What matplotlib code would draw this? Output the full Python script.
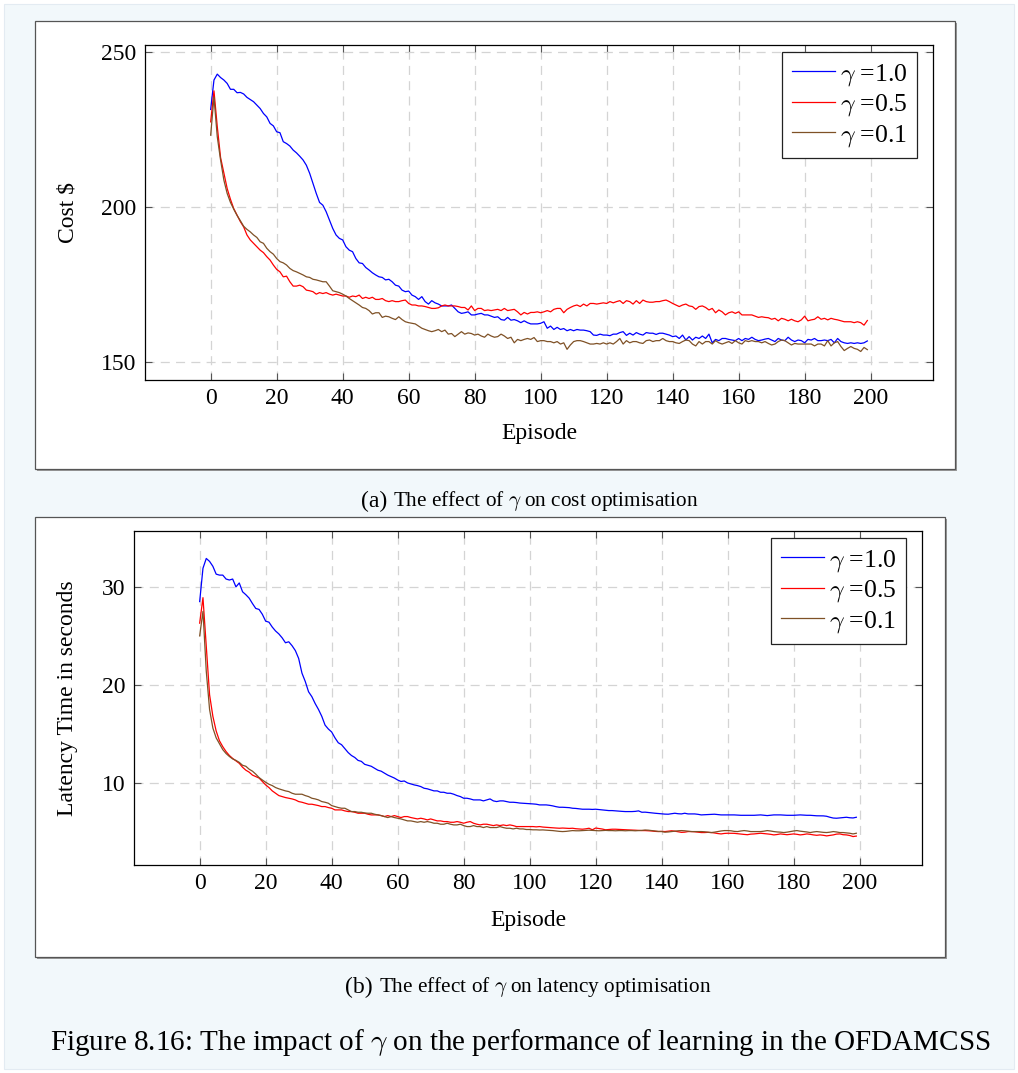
import numpy as np
import matplotlib
matplotlib.use("Agg")
import matplotlib.pyplot as plt
from matplotlib.patches import Rectangle

plt.rcParams['font.family'] = ['Liberation Serif', 'DejaVu Serif']
plt.rcParams['mathtext.fontset'] = 'cm'
plt.rcParams['lines.scale_dashes'] = False

# ---------------------------------------------------------------- data
episodes = np.arange(200)
gamma_labels = [r'$\gamma$ =1.0', r'$\gamma$ =0.5', r'$\gamma$ =0.1']

cost_g10 = [
    231.5, 241.0, 242.9, 241.8, 241.0, 239.9, 238.0, 238.0, 236.9, 237.0,
    236.5, 235.4, 234.7, 234.0, 232.9, 231.8, 230.2, 229.1, 227.0, 226.2,
    224.3, 224.0, 221.1, 220.5, 219.7, 218.4, 217.5, 216.4, 215.2, 213.5,
    210.9, 207.6, 204.4, 201.5, 200.6, 198.5, 195.8, 193.1, 191.0, 189.9,
    189.4, 187.2, 186.1, 185.6, 183.4, 182.0, 181.8, 180.5, 179.7, 178.8,
    178.1, 177.5, 177.3, 176.5, 176.7, 175.9, 174.8, 174.5, 173.2, 172.7,
    172.9, 171.6, 171.1, 170.2, 171.1, 169.5, 168.7, 169.8, 169.1, 168.7,
    168.1, 168.1, 168.1, 168.4, 167.3, 166.2, 165.7, 165.9, 166.2, 165.2,
    165.2, 165.5, 165.7, 165.2, 165.2, 164.8, 164.4, 164.6, 163.7, 163.5,
    164.4, 163.5, 163.7, 163.3, 162.7, 163.3, 162.7, 162.3, 162.3, 162.3,
    162.5, 163.0, 160.9, 161.6, 160.5, 161.2, 160.5, 160.8, 160.1, 160.5,
    160.1, 160.5, 160.3, 160.3, 160.1, 159.8, 158.7, 158.6, 159.0, 158.7,
    158.7, 158.5, 159.0, 159.0, 159.5, 159.8, 158.6, 159.3, 158.7, 159.5,
    159.0, 158.7, 159.5, 159.3, 159.3, 158.9, 159.3, 159.3, 159.0, 158.7,
    158.2, 158.4, 157.6, 158.7, 157.1, 158.2, 157.1, 158.0, 157.6, 158.4,
    157.6, 159.0, 156.2, 157.3, 156.9, 157.6, 157.6, 157.3, 157.1, 156.9,
    157.6, 156.9, 157.6, 157.3, 158.0, 157.3, 156.9, 157.1, 157.4, 157.6,
    157.1, 156.6, 157.6, 157.1, 156.9, 158.0, 157.1, 156.6, 157.1, 156.9,
    156.2, 157.3, 157.1, 157.6, 156.9, 156.9, 157.1, 156.9, 157.3, 156.2,
    157.6, 156.6, 156.2, 156.0, 156.2, 156.0, 156.2, 156.0, 156.2, 156.8,
]

cost_g05 = [
    227.5, 237.5, 226.0, 216.0, 211.0, 206.0, 202.5, 199.5, 197.4, 195.3,
    193.6, 191.0, 189.4, 188.3, 187.2, 186.1, 185.3, 184.0, 182.9, 181.3,
    179.9, 179.1, 177.5, 177.7, 175.9, 174.5, 174.5, 174.8, 174.3, 173.2,
    173.0, 172.7, 171.9, 172.4, 172.1, 172.4, 171.9, 171.6, 171.9, 171.6,
    171.3, 171.3, 170.9, 171.3, 171.1, 171.6, 170.5, 170.9, 170.5, 170.9,
    170.2, 170.2, 170.5, 169.8, 169.5, 169.8, 169.5, 169.5, 169.8, 170.0,
    168.9, 168.4, 168.4, 168.1, 168.1, 167.9, 167.6, 167.3, 167.3, 167.5,
    168.1, 168.4, 168.1, 168.1, 168.1, 167.9, 167.6, 167.6, 166.8, 168.1,
    166.6, 167.3, 167.3, 166.6, 166.8, 166.6, 166.8, 167.0, 166.6, 167.3,
    166.6, 166.8, 167.0, 166.2, 165.2, 166.0, 165.5, 166.0, 166.0, 166.2,
    165.9, 166.2, 166.6, 166.2, 167.0, 167.3, 167.3, 165.9, 167.0, 167.6,
    168.1, 168.4, 167.9, 168.7, 168.1, 168.9, 168.9, 168.7, 168.9, 169.1,
    168.9, 169.5, 169.1, 169.5, 169.8, 168.9, 169.8, 169.5, 168.7, 169.8,
    168.9, 170.0, 169.5, 169.3, 169.3, 169.5, 169.5, 169.8, 170.0, 169.5,
    168.9, 168.4, 167.9, 168.4, 168.7, 168.1, 167.9, 167.0, 167.9, 168.1,
    167.6, 166.8, 167.3, 165.9, 166.8, 166.2, 165.2, 165.9, 166.2, 165.7,
    166.2, 165.2, 165.2, 165.2, 165.2, 164.8, 164.4, 164.6, 164.4, 164.3,
    163.8, 164.1, 163.3, 164.1, 163.8, 163.3, 163.8, 163.3, 163.0, 163.6,
    164.8, 163.3, 163.6, 163.8, 164.6, 163.8, 164.1, 163.6, 164.1, 163.8,
    163.6, 163.3, 163.0, 163.0, 163.0, 162.7, 163.0, 162.7, 161.9, 163.4,
]

cost_g01 = [
    223.2, 235.5, 222.7, 215.2, 208.7, 204.4, 201.5, 199.3, 197.3, 195.6,
    193.8, 192.8, 192.0, 191.0, 190.2, 188.8, 188.3, 186.7, 185.6, 184.8,
    183.4, 182.4, 182.0, 181.3, 180.2, 179.5, 179.1, 178.6, 178.1, 177.5,
    177.3, 176.7, 176.5, 176.2, 175.9, 175.9, 174.5, 173.0, 172.7, 172.4,
    171.9, 171.3, 170.5, 169.8, 169.1, 168.4, 167.6, 167.3, 166.6, 165.5,
    165.9, 165.9, 164.4, 164.8, 164.6, 164.1, 163.7, 164.6, 163.7, 163.0,
    162.7, 162.5, 162.3, 161.6, 160.9, 160.5, 160.1, 159.8, 160.1, 160.5,
    159.8, 160.3, 159.0, 159.2, 158.2, 159.0, 159.8, 159.0, 159.4, 159.2,
    158.7, 159.0, 158.4, 158.0, 159.0, 158.4, 158.0, 158.2, 159.0, 158.4,
    157.6, 158.0, 156.2, 157.3, 156.9, 157.3, 157.6, 157.3, 157.9, 156.6,
    156.9, 156.9, 156.6, 156.6, 156.2, 156.6, 155.8, 156.2, 154.1, 155.5,
    156.6, 156.9, 156.9, 156.6, 156.2, 155.8, 155.8, 156.0, 155.8, 156.2,
    155.8, 156.2, 155.8, 156.6, 157.6, 155.8, 156.9, 156.2, 156.6, 156.6,
    156.2, 156.0, 156.9, 157.1, 156.6, 156.9, 156.9, 157.6, 156.9, 156.6,
    156.6, 156.2, 156.0, 156.6, 157.1, 156.9, 155.8, 155.2, 156.6, 155.8,
    156.6, 156.6, 155.8, 156.9, 156.2, 155.8, 156.2, 156.6, 156.0, 156.9,
    156.2, 155.8, 156.9, 156.6, 156.9, 156.6, 156.6, 156.2, 156.6, 156.0,
    155.5, 155.8, 156.6, 157.1, 156.9, 156.2, 155.5, 156.0, 155.8, 155.8,
    155.8, 155.8, 155.8, 155.2, 155.8, 155.8, 155.2, 156.9, 155.2, 156.2,
    156.6, 155.0, 153.7, 154.4, 155.0, 154.4, 154.1, 153.4, 154.7, 154.0,
]

lat_g10 = [
    28.5, 31.9, 32.9, 32.6, 32.1, 31.3, 31.2, 31.2, 30.8, 30.7,
    30.8, 30.0, 30.4, 29.5, 29.2, 28.85, 28.3, 27.8, 27.7, 27.2,
    26.5, 26.4, 25.9, 25.5, 25.2, 24.8, 24.3, 24.4, 24.0, 23.5,
    22.7, 21.2, 20.35, 19.3, 18.8, 18.1, 17.5, 16.8, 15.9, 15.5,
    15.2, 14.6, 14.1, 13.9, 13.5, 13.1, 12.8, 12.6, 12.3, 12.2,
    11.9, 11.8, 11.7, 11.5, 11.3, 11.2, 11.0, 10.8, 10.65, 10.5,
    10.3, 10.15, 10.2, 10.0, 9.9, 9.8, 9.73, 9.63, 9.46, 9.4,
    9.29, 9.19, 9.19, 9.05, 9.05, 8.95, 8.95, 8.85, 8.71, 8.61,
    8.44, 8.44, 8.37, 8.27, 8.27, 8.27, 8.17, 8.27, 8.37, 8.17,
    8.1, 8.17, 8.17, 8.1, 8.03, 8.03, 8.0, 7.95, 7.93, 7.9,
    7.9, 7.86, 7.83, 7.76, 7.76, 7.76, 7.72, 7.66, 7.58, 7.52,
    7.52, 7.50, 7.48, 7.42, 7.40, 7.36, 7.32, 7.32, 7.32, 7.30,
    7.32, 7.28, 7.25, 7.22, 7.18, 7.18, 7.15, 7.11, 7.10, 7.08,
    7.08, 7.08, 7.10, 7.15, 7.01, 7.02, 6.98, 6.95, 6.91, 6.88,
    6.84, 6.82, 6.81, 6.86, 6.91, 6.86, 6.84, 6.91, 6.84, 6.84,
    6.84, 6.80, 6.74, 6.76, 6.77, 6.79, 6.81, 6.77, 6.74, 6.74,
    6.74, 6.74, 6.74, 6.72, 6.70, 6.70, 6.70, 6.70, 6.70, 6.72,
    6.74, 6.70, 6.67, 6.70, 6.74, 6.74, 6.74, 6.72, 6.70, 6.70,
    6.70, 6.72, 6.74, 6.72, 6.70, 6.70, 6.67, 6.65, 6.64, 6.64,
    6.60, 6.50, 6.42, 6.40, 6.43, 6.45, 6.50, 6.45, 6.43, 6.50,
]

lat_g05 = [
    26.3, 28.9, 24.0, 19.0, 16.8, 15.3, 14.3, 13.7, 13.2, 12.8,
    12.5, 12.25, 12.0, 11.6, 11.3, 11.1, 10.8, 10.65, 10.5, 10.15,
    9.8, 9.53, 9.19, 8.95, 8.71, 8.61, 8.51, 8.44, 8.37, 8.27,
    8.1, 8.03, 7.93, 7.83, 7.83, 7.76, 7.69, 7.59, 7.59, 7.49,
    7.42, 7.25, 7.25, 7.25, 7.15, 7.08, 7.08, 7.01, 6.91, 6.91,
    6.91, 6.81, 6.74, 6.74, 6.74, 6.67, 6.57, 6.67, 6.57, 6.67,
    6.57, 6.47, 6.57, 6.57, 6.47, 6.40, 6.33, 6.40, 6.33, 6.23,
    6.33, 6.23, 6.13, 6.13, 6.06, 6.06, 5.99, 5.99, 6.06, 5.99,
    5.89, 5.99, 6.06, 5.89, 5.79, 5.72, 5.79, 5.79, 5.72, 5.65,
    5.72, 5.65, 5.72, 5.65, 5.72, 5.65, 5.55, 5.55, 5.55, 5.55,
    5.55, 5.55, 5.52, 5.55, 5.50, 5.48, 5.45, 5.42, 5.40, 5.38,
    5.40, 5.38, 5.36, 5.38, 5.33, 5.30, 5.28, 5.32, 5.38, 5.22,
    5.40, 5.35, 5.30, 5.22, 5.25, 5.28, 5.28, 5.26, 5.24, 5.22,
    5.21, 5.20, 5.18, 5.16, 5.14, 5.14, 5.12, 5.10, 5.06, 5.04,
    5.06, 5.04, 5.08, 5.12, 5.08, 5.02, 4.96, 4.98, 5.04, 5.04,
    5.02, 4.98, 4.94, 4.94, 4.96, 4.94, 4.90, 4.84, 4.80, 4.85,
    4.87, 4.87, 4.86, 4.82, 4.78, 4.75, 4.72, 4.78, 4.80, 4.84,
    4.87, 4.84, 4.80, 4.76, 4.70, 4.74, 4.80, 4.76, 4.72, 4.76,
    4.80, 4.76, 4.70, 4.74, 4.80, 4.76, 4.70, 4.66, 4.70, 4.66,
    4.60, 4.65, 4.70, 4.78, 4.80, 4.72, 4.70, 4.64, 4.53, 4.58,
]

lat_g01 = [
    25.0, 27.5, 21.4, 17.5, 15.6, 14.6, 14.0, 13.4, 13.0, 12.7,
    12.45, 12.3, 12.1, 11.8, 11.7, 11.4, 11.2, 10.9, 10.55, 10.3,
    10.07, 9.87, 9.73, 9.53, 9.4, 9.29, 9.19, 9.12, 8.95, 8.85,
    8.85, 8.85, 8.71, 8.61, 8.44, 8.37, 8.27, 8.1, 8.03, 7.93,
    7.69, 7.59, 7.49, 7.42, 7.42, 7.25, 7.08, 7.08, 7.01, 7.01,
    6.94, 6.91, 6.91, 6.81, 6.74, 6.67, 6.57, 6.47, 6.57, 6.47,
    6.40, 6.33, 6.23, 6.13, 6.13, 6.06, 5.99, 6.06, 5.99, 6.06,
    5.99, 5.89, 5.89, 5.79, 5.79, 5.89, 5.79, 5.72, 5.72, 5.79,
    5.65, 5.55, 5.55, 5.65, 5.55, 5.55, 5.45, 5.55, 5.45, 5.45,
    5.45, 5.55, 5.45, 5.38, 5.38, 5.31, 5.38, 5.31, 5.31, 5.25,
    5.25, 5.22, 5.22, 5.20, 5.21, 5.18, 5.16, 5.14, 5.10, 5.06,
    5.04, 5.06, 5.10, 5.14, 5.12, 5.12, 5.14, 5.16, 5.18, 5.16,
    5.14, 5.12, 5.14, 5.16, 5.14, 5.14, 5.12, 5.14, 5.14, 5.12,
    5.14, 5.14, 5.12, 5.14, 5.16, 5.20, 5.18, 5.14, 5.10, 5.06,
    5.04, 4.98, 5.00, 5.04, 5.08, 5.12, 5.14, 5.12, 5.08, 5.04,
    5.04, 5.04, 5.04, 5.02, 4.98, 4.94, 4.98, 5.04, 5.10, 5.14,
    5.14, 5.12, 5.06, 5.04, 5.10, 5.14, 5.10, 5.04, 5.04, 5.04,
    5.04, 5.08, 5.14, 5.10, 5.04, 5.00, 4.98, 4.94, 4.98, 5.04,
    5.10, 5.14, 5.08, 5.04, 5.00, 4.94, 5.00, 5.04, 5.00, 4.96,
    4.94, 4.98, 5.04, 5.00, 4.94, 4.94, 4.90, 4.87, 4.80, 4.87,
]

x_ticks = list(range(0, 201, 20))
cost_ticks = [150, 200, 250]
lat_ticks = [10, 20, 30]

# ---------------------------------------------------------------- style
W, H = 1018, 1073
line_colors = ['#0000ff', '#ff0000', '#7f5126']
page_color = '#f2f8fb'
FS = 17


def fig_box(x0, y0, x1, y1):
    """pixel box (top-left origin) -> figure-fraction rect"""
    return [x0 / W, 1 - y1 / H, (x1 - x0) / W, (y1 - y0) / H]


fig = plt.figure(figsize=(W / 100, H / 100), dpi=100)
fig.patch.set_facecolor('white')

# page background
b = fig_box(4, 4, 1014, 1069)
fig.add_artist(Rectangle((b[0], b[1]), b[2], b[3], transform=fig.transFigure,
                         facecolor=page_color, edgecolor='#e3ebf2', lw=0.8, zorder=-10))

# white panels with a thin shadow
for (x0, y0, x1, y1) in [(35, 21, 955, 469), (35, 517, 945, 957)]:
    s = fig_box(x0 + 1.5, y0 + 1.5, x1 + 1.5, y1 + 1.5)
    fig.add_artist(Rectangle((s[0], s[1]), s[2], s[3], transform=fig.transFigure,
                             facecolor='#9a9a9a', edgecolor='none', zorder=-5))
    r = fig_box(x0, y0, x1, y1)
    fig.add_artist(Rectangle((r[0], r[1]), r[2], r[3], transform=fig.transFigure,
                             facecolor='white', edgecolor='#555555', lw=0.9, zorder=-4))


def draw_panel(box, series, yticks, ylim, ylabel, ylabel_xy, xlabel_xy):
    ax = fig.add_axes(fig_box(*box))
    for vals, col, lab in zip(series, line_colors, gamma_labels):
        ax.plot(episodes, vals, color=col, lw=0.9, label=lab)
    ax.set_xlim(-19.9, 218.9)
    ax.set_ylim(*ylim)
    ax.set_xticks(x_ticks)
    ax.set_yticks(yticks)
    ax.grid(True, color='#d4d4d4', lw=0.9, ls=(0, (6.5, 4.5)))
    ax.set_axisbelow(True)
    ax.tick_params(direction='in', length=5, width=0.8, color='#555555',
                   top=True, right=True, labelsize=FS, pad=6)
    for sp in ax.spines.values():
        sp.set_linewidth(0.9)
        sp.set_color('black')
    ax.set_xlabel('Episode', fontsize=FS)
    ax.set_ylabel(ylabel, fontsize=FS)
    ax.xaxis.label.set_va('center')
    ax.yaxis.label.set_va('center')
    ax.xaxis.set_label_coords(*xlabel_xy)
    ax.yaxis.set_label_coords(*ylabel_xy)
    leg = ax.legend(loc='upper right', bbox_to_anchor=(0.9797, 0.979),
                    borderaxespad=0, fontsize=18.5, fancybox=False, framealpha=1,
                    edgecolor='#222222', handlelength=1.65, handletextpad=0.2,
                    labelspacing=0.17, borderpad=0.38)
    leg.get_frame().set_linewidth(0.9)
    return ax


draw_panel((145, 45, 933, 380), [cost_g10, cost_g05, cost_g01], cost_ticks,
           (144.2, 252.3), 'Cost $', (-0.098, 0.5), (0.5, -0.161))
draw_panel((134, 531, 922, 865), [lat_g10, lat_g05, lat_g01], lat_ticks,
           (1.63, 35.7), 'Latency Time in seconds', (-0.084, 0.5), (0.5, -0.165))

# captions
def caption(tag, text, x_split, y_px):
    fig.text(x_split / W, 1 - y_px / H, tag, ha='right', va='center', fontsize=17)
    fig.text((x_split + 6) / W, 1 - y_px / H, text, ha='left', va='center', fontsize=15.3)


caption('(a)', r'The effect of $\gamma$ on cost optimisation', 387, 501)
caption('(b)', r'The effect of $\gamma$ on latency optimisation', 373, 987)
fig.text(520 / W, 1 - 1043 / H,
         r'Figure 8.16: The impact of $\gamma$ on the performance of learning in the OFDAMCSS',
         ha='center', va='center', fontsize=21)

fig.savefig('out.png', dpi=100, facecolor=fig.get_facecolor())
